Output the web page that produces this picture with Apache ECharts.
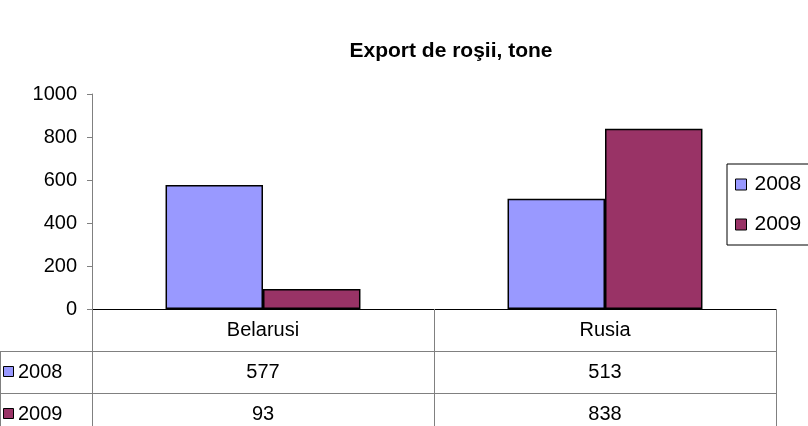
<!DOCTYPE html>
<html>
<head>
<meta charset="utf-8">
<script src="https://cdn.jsdelivr.net/npm/echarts@6/dist/echarts.min.js"></script>
<style>
html,body{margin:0;padding:0;background:#fff;}
#main{width:808px;height:426px;}
</style>
</head>
<body>
<div id="main"></div>
<script>
var titleText = "Export de roşii, tone";
var categories = ["Belarusi", "Rusia"];
var years = ["2008", "2009"];
var values2008 = [577, 513];
var values2009 = [93, 838];
var colors = ["#9999FF", "#993366"];

// layout of the plot (pixels)
var gLeft = 92, gRight = 776, gTop = 94, gBottom = 309, rowH = 42;
var font = "Liberation Sans, Arial, sans-serif";
var fs = 20;

var myChart = echarts.init(document.getElementById("main"));

// table rows: one line per series under the category
function cellLabel(value, idx) {
    return "{c|" + value + "}\n{v|" + values2008[idx] + "}\n{v|" + values2009[idx] + "}";
}

var graphics = [];
// horizontal table lines
for (var r = 1; r <= 2; r++) {
    var yy = gBottom + r * rowH + 0.5;
    graphics.push({type: "line", shape: {x1: 0, y1: yy, x2: gRight, y2: yy},
        style: {stroke: "#808080", lineWidth: 1}, z: 10});
}
// left border of table
graphics.push({type: "line", shape: {x1: 0.5, y1: gBottom + rowH, x2: 0.5, y2: 426},
    style: {stroke: "#808080", lineWidth: 1}, z: 10});
// row headers
for (var k = 0; k < years.length; k++) {
    var cy = gBottom + (k + 1) * rowH + rowH / 2;
    graphics.push({type: "rect", shape: {x: 3.5, y: cy - 5.5, width: 10, height: 10},
        style: {fill: colors[k], stroke: "#000", lineWidth: 1}, z: 10});
    graphics.push({type: "text", x: 18, y: cy,
        style: {text: years[k], fill: "#000", font: fs + "px " + font, textVerticalAlign: "middle"}, z: 10});
}

myChart.setOption({
    animation: false,
    backgroundColor: "#fff",
    title: {
        text: titleText,
        left: 446,
        textAlign: "center",
        top: 36,
        textStyle: {fontFamily: font, fontSize: 21, fontWeight: "bold", color: "#000"}
    },
    legend: {
        data: years,
        orient: "vertical",
        left: 727,
        top: 164,
        icon: "rect",
        itemWidth: 11,
        itemHeight: 11,
        itemGap: 19,
        padding: [10, 10, 10, 8],
        borderColor: "#000",
        borderWidth: 1,
        textStyle: {fontFamily: font, fontSize: 21, color: "#000", padding: [0, 0, 0, 3]},
        itemStyle: {borderColor: "#000", borderWidth: 1}
    },
    grid: {left: gLeft, right: 808 - gRight, top: gTop, bottom: 426 - gBottom,
        containLabel: false, outerBoundsMode: "none"},
    xAxis: {
        type: "category",
        data: categories,
        axisLine: {lineStyle: {color: "#000", width: 1}},
        axisTick: {show: true, length: 130, lineStyle: {color: "#808080"}},
        axisLabel: {
            margin: 0,
            formatter: cellLabel,
            rich: {
                c: {fontFamily: font, fontSize: fs, color: "#000", lineHeight: rowH, height: rowH},
                v: {fontFamily: font, fontSize: fs, color: "#000", lineHeight: rowH, height: rowH}
            }
        }
    },
    yAxis: {
        type: "value",
        min: 0,
        max: 1000,
        interval: 200,
        axisLine: {show: true, lineStyle: {color: "#808080"}},
        axisTick: {show: true, length: 5, lineStyle: {color: "#808080"}},
        splitLine: {show: false},
        axisLabel: {fontFamily: font, fontSize: fs, color: "#000", margin: 15,
            formatter: function (v) { return String(v); }}
    },
    series: [
        {
            name: years[0], type: "bar", data: values2008,
            barGap: 0, barCategoryGap: "43%",
            itemStyle: {color: colors[0], borderColor: "#000", borderWidth: 1.5}
        },
        {
            name: years[1], type: "bar", data: values2009,
            barGap: 0, barCategoryGap: "43%",
            itemStyle: {color: colors[1], borderColor: "#000", borderWidth: 1.5}
        }
    ],
    graphic: graphics
});
</script>
</body>
</html>
